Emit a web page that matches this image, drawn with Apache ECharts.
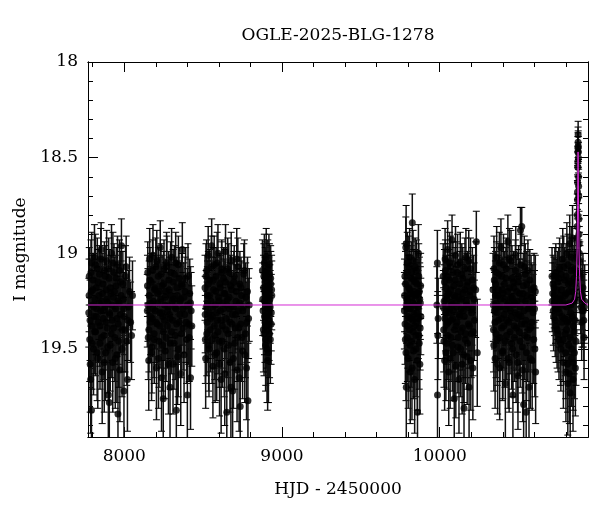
<!DOCTYPE html>
<html>
<head>
<meta charset="utf-8">
<script src="https://cdn.jsdelivr.net/npm/echarts@6/dist/echarts.min.js"></script>
<style>html,body{margin:0;padding:0;background:#fff}#c{width:600px;height:512px}</style>
</head>
<body>
<div id="c"></div>
<script>
// ---- data: [HJD-2450000, I mag, error] ----
const season1 = [[7775,19.31,0.18],[7778,19.12,0.15],[7781,19.45,0.22],[7784,19.58,0.25],[7787,19.66,0.28],[7790,19.20,0.17],[7792,19.82,0.32],[7793,19.05,0.16],[7796,19.38,0.21],[7799,19.27,0.19],[7802,19.14,0.14],[7805,19.50,0.24],[7808,19.33,0.20],[7811,19.02,0.17],[7815,19.24,0.18],[7818,19.41,0.23],[7822,19.18,0.15],[7825,19.29,0.20],[7829,19.08,0.16],[7832,19.55,0.26],[7836,19.36,0.21],[7839,19.22,0.17],[7843,19.11,0.15],[7846,19.47,0.24],[7850,19.30,0.19],[7853,18.98,0.14],[7857,19.25,0.18],[7860,19.62,0.27],[7864,19.16,0.16],[7867,19.34,0.20],[7871,19.43,0.23],[7874,19.09,0.15],[7878,19.28,0.19],[7881,19.52,0.25],[7885,19.19,0.17],[7888,19.04,0.16],[7892,19.39,0.22],[7896,19.26,0.18],[7899,19.74,0.30],[7903,19.13,0.15],[7905,19.78,0.30],[7907,19.32,0.20],[7911,19.48,0.24],[7915,19.21,0.17],[7919,19.00,0.15],[7923,19.35,0.21],[7927,19.57,0.26],[7931,19.23,0.18],[7935,19.10,0.15],[7940,19.44,0.23],[7944,19.29,0.19],[7948,19.17,0.16],[7953,19.53,0.25],[7957,19.06,0.15],[7960,19.84,0.32],[7962,19.37,0.21],[7967,19.26,0.18],[7972,19.61,0.27],[7977,19.15,0.16],[7982,18.96,0.14],[7988,19.40,0.22],[7994,19.24,0.18],[7998,19.72,0.29],[8000,19.33,0.20],[8008,19.12,0.16],[8016,19.46,0.23],[8020,19.66,0.27],[8026,19.28,0.19],[8040,19.36,0.21],[8052,19.22,0.18]];
const season1b = [[7777,19.22,0.19],[7783,19.35,0.21],[7789,19.10,0.17],[7795,19.47,0.24],[7800,19.19,0.18],[7806,19.28,0.19],[7812,19.41,0.22],[7817,19.06,0.16],[7823,19.33,0.20],[7828,19.52,0.25],[7834,19.15,0.17],[7840,19.26,0.19],[7845,19.38,0.21],[7851,19.03,0.16],[7856,19.44,0.23],[7862,19.21,0.18],[7868,19.30,0.20],[7873,19.57,0.26],[7879,19.12,0.16],[7884,19.36,0.21],[7890,19.24,0.18],[7895,19.49,0.24],[7901,19.08,0.16],[7906,19.31,0.20],[7912,19.18,0.17],[7917,19.42,0.23],[7922,19.27,0.19],[7928,19.05,0.16],[7933,19.39,0.22],[7938,19.20,0.18],[7943,19.55,0.26],[7949,19.13,0.16],[7954,19.34,0.20],[7959,19.25,0.19],[7965,19.46,0.24],[7970,19.09,0.16],[7975,19.32,0.20],[7980,19.22,0.18],[7986,19.50,0.25],[7991,19.16,0.17],[7997,19.29,0.19],[8004,19.40,0.22],[8012,19.07,0.16],[8022,19.35,0.21],[8033,19.20,0.18],[8046,19.43,0.23]];
const season2 = [[8146,19.30,0.19],[8147,19.17,0.16],[8149,19.10,0.16],[8152,19.44,0.22],[8155,19.56,0.26],[8158,19.22,0.18],[8161,19.03,0.16],[8164,19.36,0.21],[8168,19.26,0.19],[8171,19.15,0.15],[8175,19.49,0.24],[8178,19.34,0.20],[8182,19.01,0.16],[8185,19.25,0.18],[8189,19.42,0.23],[8193,19.19,0.16],[8196,19.30,0.20],[8200,19.07,0.15],[8204,19.60,0.27],[8208,19.37,0.21],[8212,19.21,0.17],[8216,19.12,0.15],[8220,19.46,0.24],[8224,19.31,0.19],[8228,18.97,0.14],[8232,19.24,0.18],[8236,19.65,0.28],[8240,19.17,0.16],[8244,19.33,0.20],[8247,19.76,0.30],[8248,19.41,0.23],[8252,19.08,0.15],[8256,19.27,0.19],[8260,19.51,0.25],[8264,19.20,0.17],[8268,19.05,0.16],[8273,19.38,0.22],[8277,19.28,0.18],[8282,19.14,0.15],[8286,19.32,0.20],[8290,19.70,0.29],[8291,19.47,0.24],[8295,19.22,0.17],[8300,19.02,0.15],[8305,19.35,0.21],[8309,19.58,0.26],[8314,19.24,0.18],[8318,19.11,0.15],[8323,19.43,0.23],[8328,19.29,0.19],[8330,19.82,0.31],[8333,19.18,0.16],[8338,19.54,0.25],[8343,19.06,0.15],[8348,19.36,0.21],[8353,19.25,0.18],[8358,19.63,0.27],[8363,19.16,0.16],[8368,18.98,0.14],[8373,19.39,0.22],[8378,19.23,0.18],[8383,19.32,0.20],[8389,19.13,0.16],[8395,19.45,0.23],[8400,19.74,0.30],[8401,19.27,0.19],[8408,19.37,0.21],[8415,19.21,0.18],[8420,19.65,0.27],[8424,19.30,0.20]];
const season2b = [[8150,19.27,0.19],[8156,19.40,0.22],[8162,19.14,0.17],[8167,19.33,0.20],[8173,19.52,0.25],[8179,19.09,0.16],[8184,19.29,0.19],[8190,19.45,0.23],[8195,19.18,0.17],[8201,19.36,0.21],[8206,19.04,0.16],[8211,19.26,0.19],[8217,19.55,0.26],[8222,19.20,0.18],[8227,19.38,0.22],[8233,19.11,0.16],[8238,19.31,0.20],[8243,19.48,0.24],[8249,19.16,0.17],[8254,19.35,0.21],[8259,19.23,0.18],[8265,19.44,0.23],[8270,19.07,0.16],[8275,19.30,0.20],[8280,19.58,0.26],[8285,19.19,0.17],[8289,19.34,0.21],[8294,19.10,0.16],[8299,19.41,0.22],[8304,19.25,0.19],[8310,19.15,0.17],[8315,19.47,0.24],[8320,19.28,0.19],[8326,19.05,0.16],[8332,19.37,0.21],[8337,19.22,0.18],[8342,19.50,0.25],[8347,19.13,0.16],[8352,19.32,0.20],[8357,19.24,0.19],[8362,19.42,0.23],[8367,19.17,0.17],[8372,19.29,0.19],[8379,19.53,0.25],[8386,19.20,0.18],[8393,19.36,0.21],[8404,19.12,0.17],[8412,19.44,0.23],[8420,19.26,0.19],[8428,19.38,0.21]];
const season3 = [[8512,19.18,0.17],[8514,19.45,0.23],[8516,19.55,0.26],[8519,19.28,0.19],[8522,19.09,0.16],[8525,19.36,0.21],[8528,19.22,0.18],[8532,19.01,0.15],[8535,19.48,0.24],[8539,19.31,0.20],[8542,19.14,0.16],[8546,19.40,0.22],[8550,19.25,0.18],[8554,18.96,0.14],[8558,19.33,0.20],[8562,19.59,0.27],[8566,19.19,0.17],[8570,19.06,0.15],[8574,19.43,0.23],[8578,19.27,0.19],[8582,19.12,0.15],[8586,19.52,0.25],[8590,19.35,0.21],[8594,19.00,0.15],[8598,19.23,0.18],[8602,19.46,0.24],[8606,19.16,0.16],[8610,19.30,0.20],[8614,19.66,0.28],[8618,19.08,0.15],[8622,19.38,0.22],[8626,19.26,0.19],[8630,19.13,0.16],[8634,19.50,0.25],[8638,19.21,0.17],[8642,18.99,0.14],[8646,19.34,0.21],[8650,19.83,0.32],[8654,19.24,0.18],[8658,19.42,0.23],[8662,19.10,0.15],[8666,19.29,0.19],[8670,19.57,0.26],[8674,19.17,0.16],[8678,19.04,0.15],[8683,19.37,0.21],[8687,19.72,0.29],[8691,19.28,0.19],[8695,19.15,0.16],[8700,19.47,0.24],[8705,19.32,0.20],[8710,19.20,0.17],[8715,19.61,0.27],[8720,19.07,0.15],[8725,19.39,0.22],[8730,19.26,0.18],[8735,19.80,0.31],[8740,19.18,0.16],[8746,19.44,0.23],[8752,19.30,0.20],[8758,19.11,0.16],[8764,19.53,0.25],[8770,19.23,0.18],[8777,19.36,0.21],[8784,19.77,0.30],[8792,19.27,0.19]];
const season3b = [[8513,19.32,0.20],[8518,19.12,0.17],[8523,19.42,0.22],[8527,19.26,0.19],[8533,19.16,0.17],[8537,19.50,0.25],[8541,19.22,0.18],[8547,19.34,0.21],[8552,19.07,0.16],[8557,19.45,0.23],[8561,19.28,0.19],[8565,19.14,0.17],[8571,19.38,0.22],[8576,19.53,0.25],[8580,19.20,0.18],[8585,19.31,0.20],[8589,19.05,0.16],[8595,19.41,0.22],[8599,19.25,0.19],[8604,19.58,0.27],[8608,19.18,0.17],[8613,19.35,0.21],[8617,19.10,0.16],[8621,19.46,0.24],[8627,19.29,0.19],[8632,19.21,0.18],[8637,19.63,0.27],[8641,19.15,0.17],[8645,19.40,0.22],[8651,19.27,0.19],[8656,19.08,0.16],[8661,19.48,0.24],[8665,19.23,0.18],[8671,19.36,0.21],[8676,19.70,0.29],[8681,19.19,0.17],[8686,19.32,0.20],[8692,19.55,0.26],[8697,19.12,0.16],[8702,19.39,0.22],[8708,19.25,0.19],[8713,19.03,0.16],[8718,19.44,0.23],[8723,19.30,0.20],[8728,19.65,0.28],[8733,19.16,0.17],[8738,19.37,0.21],[8744,19.22,0.18],[8750,19.51,0.25],[8756,19.28,0.19],[8762,19.09,0.16],[8768,19.42,0.23],[8775,19.60,0.27],[8781,19.20,0.18],[8788,19.34,0.21]];
const season4 = [[8876,19.09,0.16],[8878,19.24,0.19],[8880,19.30,0.20],[8882,19.40,0.22],[8883,19.18,0.17],[8885,19.12,0.17],[8886,19.42,0.22],[8888,19.05,0.15],[8889,19.33,0.20],[8890,19.25,0.18],[8892,19.36,0.21],[8893,19.20,0.18],[8894,19.13,0.16],[8896,19.48,0.24],[8897,19.45,0.24],[8898,19.21,0.18],[8899,19.10,0.16],[8900,19.02,0.15],[8902,19.33,0.20],[8903,19.38,0.22],[8904,19.27,0.19],[8905,19.50,0.28],[8906,19.15,0.16],[8907,19.23,0.18],[8908,19.40,0.22],[8909,19.56,0.26],[8910,19.08,0.15],[8911,19.17,0.17],[8912,19.29,0.19],[8914,19.52,0.26],[8915,19.31,0.20],[8916,19.19,0.17],[8917,19.06,0.16],[8918,19.35,0.21],[8920,19.11,0.16],[8921,19.42,0.23],[8923,19.24,0.18],[8925,19.28,0.19],[8926,19.45,0.23],[8928,19.13,0.17],[8929,19.16,0.17],[8931,19.37,0.21],[8932,19.31,0.20],[8934,19.19,0.18],[8935,19.22,0.18]];
const season5 = [[9776,19.30,0.20],[9777,19.22,0.19],[9779,19.12,0.17],[9780,19.37,0.21],[9782,19.45,0.23],[9783,19.16,0.17],[9785,18.97,0.16],[9786,19.52,0.25],[9787,18.95,0.20],[9788,19.70,0.29],[9789,19.28,0.19],[9791,19.24,0.18],[9792,19.10,0.16],[9794,19.05,0.16],[9795,19.44,0.23],[9797,19.38,0.22],[9798,19.25,0.19],[9800,19.55,0.26],[9801,19.33,0.20],[9803,19.18,0.17],[9804,19.07,0.16],[9806,19.29,0.19],[9807,19.40,0.22],[9809,19.02,0.15],[9810,19.19,0.18],[9812,19.48,0.24],[9813,19.62,0.27],[9815,19.21,0.18],[9816,19.29,0.19],[9818,19.34,0.21],[9819,19.13,0.17],[9821,19.10,0.16],[9822,19.46,0.24],[9824,19.60,0.27],[9825,19.23,0.18],[9826,18.84,0.15],[9828,19.35,0.21],[9829,19.26,0.19],[9831,19.04,0.16],[9832,19.41,0.22],[9834,19.51,0.25],[9835,19.14,0.16],[9837,19.20,0.18],[9838,19.32,0.20],[9840,19.38,0.22],[9841,19.66,0.28],[9843,19.27,0.19],[9844,19.07,0.15],[9846,19.15,0.17],[9847,19.22,0.18],[9849,19.43,0.23],[9850,19.50,0.25],[9852,19.09,0.16],[9853,19.36,0.21],[9855,19.31,0.20],[9856,19.16,0.17],[9858,19.56,0.26],[9859,19.83,0.32],[9861,19.21,0.18],[9862,19.28,0.19],[9864,19.34,0.21],[9865,19.00,0.15],[9867,19.12,0.17],[9868,19.43,0.23],[9870,19.47,0.24],[9871,19.20,0.18],[9873,19.24,0.19],[9874,19.58,0.26],[9876,19.39,0.22],[9877,19.26,0.19],[9879,19.17,0.17],[9880,19.33,0.20]];
const season6 = [[9982,19.27,0.20],[9985,19.05,0.17],[9986,19.74,0.32],[9988,19.43,0.23],[9990,19.34,0.21],[10022,19.12,0.17],[10025,19.40,0.22],[10028,19.25,0.19],[10031,19.56,0.26],[10034,19.03,0.16],[10037,19.31,0.20],[10040,19.18,0.17],[10044,19.47,0.24],[10047,19.22,0.18],[10050,18.98,0.15],[10054,19.36,0.21],[10057,19.62,0.28],[10061,19.14,0.16],[10064,19.29,0.19],[10068,19.07,0.16],[10071,19.44,0.23],[10075,19.26,0.18],[10078,18.93,0.13],[10082,19.34,0.20],[10085,19.52,0.25],[10089,19.17,0.17],[10092,19.76,0.30],[10096,19.23,0.18],[10100,19.01,0.15],[10103,19.38,0.22],[10107,19.28,0.19],[10111,19.10,0.16],[10115,19.49,0.24],[10118,19.20,0.17],[10122,19.66,0.28],[10126,19.33,0.20],[10130,19.05,0.16],[10134,19.41,0.23],[10138,19.24,0.18],[10142,19.58,0.26],[10146,19.13,0.16],[10150,19.30,0.20],[10154,19.81,0.31],[10158,19.19,0.17],[10162,19.45,0.23],[10166,19.02,0.15],[10170,19.27,0.19],[10174,19.54,0.25],[10178,19.15,0.16],[10182,19.37,0.21],[10186,19.70,0.29],[10190,19.22,0.18],[10195,19.08,0.16],[10200,19.42,0.23],[10205,19.29,0.19],[10210,19.60,0.27],[10215,19.18,0.17],[10220,19.35,0.21],[10228,19.19,0.25],[10232,18.94,0.16],[10238,19.52,0.28]];
const season6b = [[10023,19.28,0.19],[10027,19.46,0.24],[10030,19.15,0.17],[10033,19.34,0.21],[10036,19.09,0.16],[10039,19.52,0.25],[10043,19.24,0.19],[10046,19.37,0.21],[10049,19.12,0.17],[10052,19.43,0.23],[10056,19.21,0.18],[10059,19.31,0.20],[10063,19.05,0.16],[10066,19.55,0.26],[10070,19.19,0.18],[10073,19.35,0.21],[10077,19.27,0.19],[10080,19.48,0.24],[10084,19.10,0.16],[10087,19.30,0.20],[10091,19.22,0.18],[10094,19.40,0.22],[10098,19.14,0.17],[10102,19.59,0.27],[10105,19.26,0.19],[10109,19.36,0.21],[10113,19.06,0.16],[10117,19.44,0.23],[10120,19.23,0.18],[10124,19.32,0.20],[10128,19.16,0.17],[10132,19.50,0.25],[10136,19.29,0.19],[10140,19.11,0.16],[10144,19.39,0.22],[10148,19.21,0.18],[10152,19.53,0.25],[10156,19.33,0.20],[10160,19.08,0.16],[10164,19.42,0.23],[10168,19.25,0.19],[10172,19.17,0.17],[10176,19.47,0.24],[10180,19.28,0.19],[10184,19.04,0.16],[10188,19.38,0.22],[10192,19.20,0.18],[10197,19.56,0.26],[10202,19.31,0.20],[10207,19.14,0.17],[10212,19.41,0.23],[10218,19.24,0.19]];
const season7 = [[10338,19.19,0.19],[10341,19.40,0.22],[10344,19.08,0.17],[10347,19.30,0.20],[10351,19.55,0.26],[10354,19.16,0.17],[10358,19.26,0.19],[10361,19.02,0.16],[10365,19.45,0.24],[10369,19.22,0.18],[10372,19.35,0.21],[10376,19.11,0.16],[10380,19.60,0.27],[10384,19.28,0.19],[10388,18.97,0.15],[10392,19.39,0.22],[10396,19.19,0.17],[10400,19.51,0.25],[10404,19.06,0.16],[10408,19.32,0.20],[10412,19.24,0.18],[10416,19.68,0.29],[10420,19.13,0.16],[10424,19.43,0.23],[10428,19.27,0.19],[10432,18.94,0.14],[10436,19.36,0.21],[10440,19.57,0.26],[10444,19.18,0.17],[10448,19.30,0.20],[10452,19.04,0.16],[10456,19.47,0.24],[10460,19.23,0.18],[10464,19.74,0.30],[10468,19.15,0.16],[10472,19.38,0.22],[10476,19.26,0.19],[10480,19.09,0.16],[10484,19.53,0.25],[10488,19.20,0.17],[10492,19.34,0.21],[10496,19.64,0.28],[10500,19.12,0.16],[10504,19.41,0.23],[10508,19.28,0.19],[10512,18.88,0.12],[10516,19.33,0.20],[10520,18.86,0.10],[10524,19.49,0.24],[10528,19.21,0.18],[10532,19.79,0.31],[10536,19.07,0.16],[10540,19.37,0.21],[10544,19.25,0.19],[10548,19.83,0.32],[10552,19.16,0.17],[10556,19.44,0.23],[10561,19.29,0.19],[10566,19.70,0.29],[10571,19.14,0.16],[10576,19.39,0.22],[10581,19.23,0.18],[10586,19.56,0.26],[10592,19.31,0.20],[10598,19.18,0.18],[10603,19.50,0.25],[10608,19.62,0.27]];
const season7b = [[10340,19.27,0.19],[10343,19.48,0.24],[10346,19.14,0.17],[10350,19.36,0.21],[10353,19.22,0.18],[10357,19.42,0.23],[10360,19.10,0.16],[10364,19.31,0.20],[10367,19.58,0.26],[10371,19.19,0.18],[10374,19.28,0.19],[10378,19.05,0.16],[10382,19.44,0.23],[10386,19.24,0.19],[10390,19.34,0.21],[10394,19.12,0.17],[10398,19.52,0.25],[10402,19.21,0.18],[10406,19.38,0.22],[10410,19.16,0.17],[10414,19.46,0.24],[10418,19.29,0.19],[10422,19.08,0.16],[10426,19.35,0.21],[10430,19.20,0.18],[10434,19.55,0.26],[10438,19.26,0.19],[10442,19.03,0.16],[10446,19.41,0.22],[10450,19.23,0.18],[10454,19.33,0.20],[10458,19.13,0.17],[10462,19.50,0.25],[10466,19.27,0.19],[10470,19.18,0.17],[10474,19.44,0.23],[10478,19.31,0.20],[10482,19.01,0.15],[10486,19.39,0.22],[10490,19.25,0.19],[10494,19.57,0.26],[10498,19.15,0.17],[10502,19.32,0.20],[10506,19.21,0.18],[10510,19.46,0.24],[10514,19.06,0.16],[10518,19.37,0.21],[10522,19.24,0.19],[10526,19.61,0.27],[10530,19.17,0.17],[10534,19.30,0.20],[10538,19.43,0.23],[10542,19.11,0.16],[10546,19.35,0.21],[10550,19.52,0.25],[10554,19.22,0.18],[10559,19.09,0.16],[10564,19.40,0.22],[10569,19.28,0.19],[10574,19.55,0.26],[10579,19.19,0.18],[10584,19.36,0.21],[10590,19.25,0.19],[10596,19.45,0.23],[10601,19.29,0.20],[10606,19.20,0.19]];
const season8 = [[10712,19.12,0.15],[10716,19.21,0.16],[10720,19.30,0.18],[10724,19.18,0.16],[10728,19.26,0.17],[10732,19.35,0.19],[10736,19.10,0.15],[10740,19.24,0.17],[10744,19.40,0.20],[10748,19.15,0.16],[10752,19.29,0.18],[10756,19.45,0.21],[10760,19.08,0.16],[10764,19.22,0.18],[10768,19.50,0.22],[10772,19.19,0.17],[10776,19.33,0.19],[10780,19.03,0.16],[10784,19.57,0.24],[10788,19.27,0.19],[10792,19.14,0.17],[10796,19.42,0.22],[10800,19.62,0.26],[10803,19.21,0.18],[10806,19.00,0.16],[10809,19.36,0.21],[10812,19.68,0.27],[10815,19.16,0.17],[10818,19.48,0.23],[10821,19.26,0.19],[10824,18.95,0.15],[10827,19.73,0.28],[10830,19.31,0.20],[10833,19.09,0.17],[10836,19.55,0.25],[10839,19.20,0.18],[10842,18.92,0.17],[10845,19.66,0.27],[10848,19.38,0.21],[10851,19.13,0.17],[10854,19.52,0.24],[10857,19.24,0.19],[10860,19.60,0.25],[10863,19.18,0.17],[10866,19.10,0.16],[10868,19.02,0.15],[10870,18.92,0.12],[10872,18.80,0.11],[10873,18.72,0.10],[10874,18.63,0.09],[10875,18.55,0.08],[10876,18.47,0.08],[10877,18.42,0.08],[10877.5,18.38,0.07],[10878,18.44,0.08],[10879,18.50,0.08],[10880,18.60,0.09],[10881,18.70,0.10],[10882,18.82,0.11],[10884,18.95,0.13],[10886,19.04,0.15],[10889,19.12,0.16],[10892,19.20,0.17],[10896,19.28,0.19],[10900,19.36,0.20],[10905,19.22,0.18],[10910,19.30,0.19],[10915,19.44,0.22],[10919,19.25,0.19]];
const season8b = [[10714,19.25,0.16],[10718,19.16,0.15],[10722,19.33,0.18],[10726,19.22,0.17],[10730,19.12,0.15],[10734,19.29,0.18],[10738,19.38,0.19],[10742,19.19,0.16],[10746,19.27,0.18],[10750,19.42,0.20],[10754,19.13,0.16],[10758,19.31,0.18],[10762,19.24,0.18],[10766,19.47,0.22],[10770,19.11,0.16],[10774,19.36,0.20],[10778,19.25,0.19],[10782,19.45,0.22],[10786,19.07,0.16],[10790,19.34,0.20],[10794,19.22,0.18],[10798,19.52,0.24],[10801,19.12,0.17],[10804,19.40,0.22],[10807,19.28,0.19],[10810,19.58,0.25],[10813,19.06,0.16],[10816,19.35,0.21],[10819,19.20,0.18],[10822,19.63,0.26],[10825,19.15,0.17],[10828,19.44,0.23],[10831,19.27,0.19],[10834,19.02,0.16],[10837,19.50,0.24],[10840,19.33,0.20],[10843,19.16,0.17],[10846,19.57,0.25],[10849,19.25,0.19],[10852,19.41,0.22],[10855,19.08,0.16],[10858,19.35,0.21],[10861,19.22,0.18],[10864,19.46,0.23],[10867,19.15,0.16],[10869,19.00,0.14],[10871,18.86,0.12],[10873.5,18.68,0.09],[10875.5,18.52,0.08],[10876.5,18.45,0.08],[10878.5,18.47,0.08],[10880.5,18.65,0.09],[10883,18.90,0.12],[10885,19.00,0.14],[10888,19.10,0.16],[10894,19.24,0.18],[10902,19.30,0.19],[10908,19.18,0.18],[10913,19.35,0.21],[10917,19.28,0.19]];

// model light curve
const modelT = [7770, 10800, 10840, 10855, 10862, 10867, 10871, 10874, 10876, 10877, 10878, 10880, 10883, 10887, 10892, 10900, 10920, 10940];
const modelM = [19.27, 19.27, 19.26, 19.24, 19.20, 19.12, 18.98, 18.75, 18.55, 18.47, 18.55, 18.75, 18.98, 19.12, 19.20, 19.24, 19.26, 19.27];

// axis ticks / labels
const xMajor = [8000, 9000, 10000];
const xMinor = [7800, 8200, 8400, 8600, 8800, 9200, 9400, 9600, 9800, 10200, 10400, 10600, 10800];
const yMajor = [18, 18.5, 19, 19.5];
const yMinor = [18.1, 18.2, 18.3, 18.4, 18.6, 18.7, 18.8, 18.9, 19.1, 19.2, 19.3, 19.4, 19.6, 19.7, 19.8, 19.9];
const titleText = 'OGLE-2025-BLG-1278';
const xName = 'HJD - 2450000';
const yName = 'I magnitude';

const allData = [].concat(season1, season1b, season2, season2b, season3, season3b, season4, season5, season6, season6b, season7, season7b, season8, season8b);
const FONT = 'DejaVu Serif';
const X_MIN = 7770, X_MAX = 10940, Y_MIN = 18, Y_MAX = 19.96;

function xAx(position, ticks, len, labels) {
  return {
    type: 'value', position: position, min: X_MIN, max: X_MAX,
    axisLine: { show: true, onZero: false, lineStyle: { color: '#000', width: 1 } },
    axisTick: { show: true, inside: true, length: len, customValues: ticks, lineStyle: { color: '#000', width: 1 } },
    axisLabel: labels ? { show: true, customValues: ticks, formatter: v => String(v), fontFamily: FONT, fontSize: 17, color: '#000', margin: 11 } : { show: false },
    splitLine: { show: false },
    name: labels ? xName : '', nameLocation: 'middle', nameGap: 44,
    nameTextStyle: { fontFamily: FONT, fontSize: 17, color: '#000' }
  };
}
function yAx(position, ticks, len, labels) {
  return {
    type: 'value', position: position, inverse: true, min: Y_MIN, max: Y_MAX,
    axisLine: { show: true, onZero: false, lineStyle: { color: '#000', width: 1 } },
    axisTick: { show: true, inside: true, length: len, customValues: ticks, lineStyle: { color: '#000', width: 1 } },
    axisLabel: labels ? { show: true, customValues: ticks, formatter: v => String(v), fontFamily: FONT, fontSize: 17, color: '#000', margin: 10 } : { show: false },
    splitLine: { show: false },
    name: labels ? yName : '', nameLocation: 'middle', nameGap: 54,
    nameTextStyle: { fontFamily: FONT, fontSize: 17, color: '#000' }
  };
}

const chart = echarts.init(document.getElementById('c'), null, { renderer: 'canvas' });
chart.setOption({
  animation: false,
  backgroundColor: '#fff',
  graphic: [{
    type: 'text', x: 338, y: 36,
    style: { text: titleText, fontFamily: FONT, fontSize: 17, fill: '#000', align: 'center', verticalAlign: 'middle' }
  }],
  grid: { left: 88, right: 12, top: 62, bottom: 75, containLabel: false },
  xAxis: [xAx('bottom', xMajor, 10, true), xAx('bottom', xMinor, 5, false), xAx('top', xMajor, 10, false), xAx('top', xMinor, 5, false)],
  yAxis: [yAx('left', yMajor, 10, true), yAx('left', yMinor, 5, false), yAx('right', yMajor, 10, false), yAx('right', yMinor, 5, false)],
  series: [
    {
      type: 'custom', xAxisIndex: 0, yAxisIndex: 0, z: 2,
      data: allData,
      renderItem: function (params, api) {
        const t = api.value(0), m = api.value(1), e = api.value(2);
        const p1 = api.coord([t, m - e]);
        const p2 = api.coord([t, m + e]);
        const cs = params.coordSys;
        const lo = cs.y, hi = cs.y + cs.height;
        let ya = Math.min(p1[1], p2[1]), yb = Math.max(p1[1], p2[1]);
        const px = p1[0];
        const children = [{
          type: 'line',
          shape: { x1: px, y1: Math.max(lo, ya), x2: px, y2: Math.min(hi, yb) },
          style: { stroke: '#111', lineWidth: 1.5 }
        }];
        if (ya >= lo) children.push({ type: 'line', shape: { x1: px - 3.5, y1: ya, x2: px + 3.5, y2: ya }, style: { stroke: '#000', lineWidth: 1 } });
        if (yb <= hi) children.push({ type: 'line', shape: { x1: px - 3.5, y1: yb, x2: px + 3.5, y2: yb }, style: { stroke: '#000', lineWidth: 1 } });
        return { type: 'group', children: children };
      }
    },
    {
      type: 'scatter', xAxisIndex: 0, yAxisIndex: 0, z: 3,
      symbol: 'circle', symbolSize: 7,
      itemStyle: { color: '#000' },
      data: allData.map(r => [r[0], r[1]])
    },
    {
      type: 'line', xAxisIndex: 0, yAxisIndex: 0, z: 5,
      showSymbol: false, symbol: 'none', smooth: false,
      lineStyle: { color: '#d42ad4', width: 1 },
      data: modelT.map((t, i) => [t, modelM[i]])
    }
  ]
});
</script>
</body>
</html>
